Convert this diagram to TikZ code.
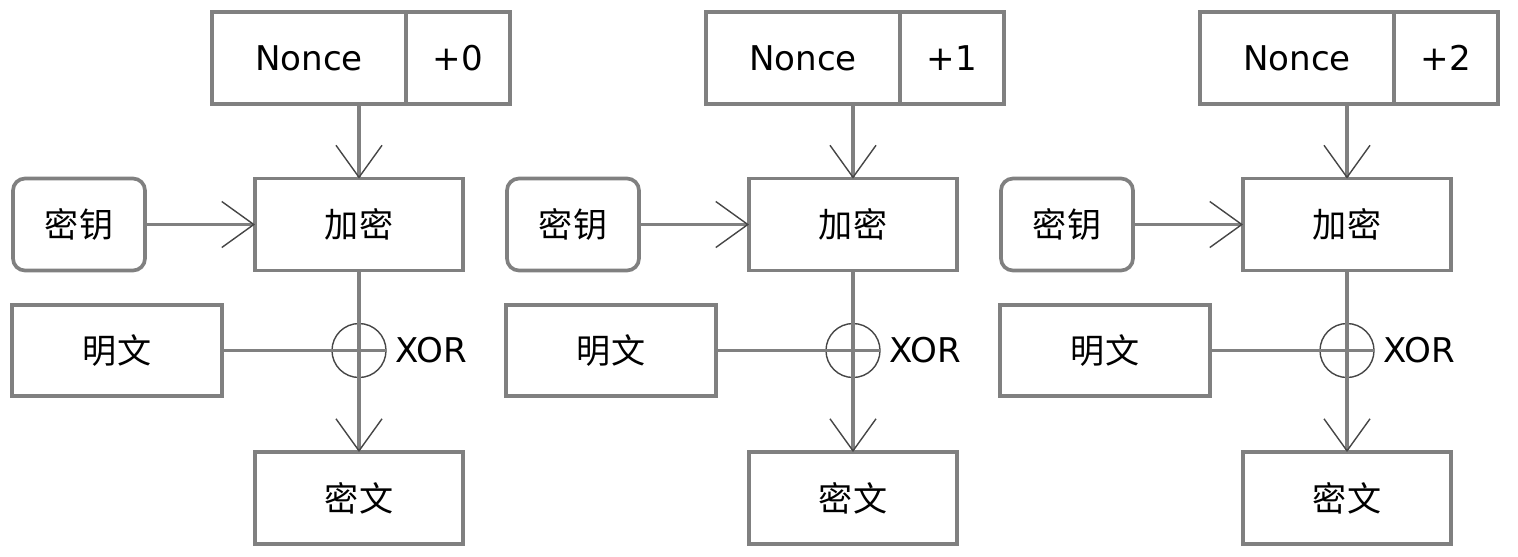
\documentclass[tikz,border=0pt]{standalone}
\usepackage{fontspec}
\setmainfont{DejaVu Sans}
\newfontfamily\cjk{Noto Sans CJK SC}
\usetikzlibrary{arrows.meta}
\definecolor{boxgray}{RGB}{128,128,128}
\definecolor{tipgray}{RGB}{70,70,70}

\begin{document}
\begin{tikzpicture}[
		box/.style={draw=boxgray, line width=1.05pt, outer sep=0pt, inner sep=0pt, minimum height=0.92cm, font=\fontsize{9.7}{12}\selectfont},
		flow/.style={draw=boxgray, line width=1.05pt},
		tip/.style={-{Straight Barb[length=0.32cm, width=0.46cm, line width=0.4pt, color=tipgray]}}
	]
		\useasboundingbox (0,0) rectangle (15.18,-5.56);
		\foreach \i/\dx in {0/0, 1/4.94, 2/9.88} {
			\node[box, minimum width=1.94cm] (nc\i) at (\dx+3.09,-0.58) {Nonce};
			\node[box, minimum width=1.04cm, anchor=west] (cnt\i) at (nc\i.east) {+\i};
			\node[box, minimum width=2.08cm] (enc\i) at (\dx+3.59,-2.245) {\cjk 加密};
			\node[box, minimum width=1.32cm, rounded corners=0.12cm] (key\i) at (\dx+0.79,-2.245) {\cjk 密钥};
			\node[box, minimum width=2.10cm, minimum height=0.91cm] (pt\i) at (\dx+1.17,-3.505) {\cjk 明文};
			\node[box, minimum width=2.08cm] (ct\i) at (\dx+3.59,-4.98) {\cjk 密文};
			\node[circle, draw=tipgray, line width=0.4pt, minimum size=0.54cm, inner sep=0pt, outer sep=0pt] (xor\i) at (\dx+3.59,-3.505) {};
			\node[anchor=west, inner sep=0pt, font=\fontsize{9.7}{12}\selectfont] (lbl\i) at ([xshift=0.09cm]xor\i.east) {XOR};
			% connectors
			\draw[flow, tip] (nc\i.south -| enc\i.north) -- (enc\i.north);
			\draw[flow, tip] (key\i) -- (enc\i);
			\draw[flow, tip] (enc\i) -- (ct\i);
			\draw[flow] (pt\i) -- (xor\i.east);
		}
	\end{tikzpicture}
\end{document}
